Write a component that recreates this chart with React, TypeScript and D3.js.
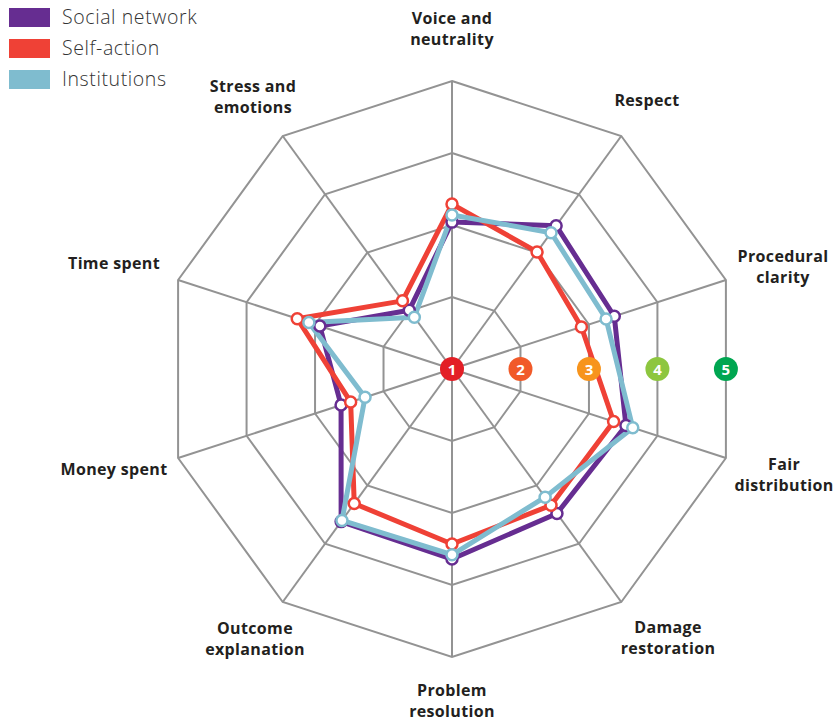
import React, { useEffect, useRef } from "react";
import * as d3 from "d3";

const axes = [
  ["Voice and", "neutrality"],
  ["Respect"],
  ["Procedural", "clarity"],
  ["Fair", "distribution"],
  ["Damage", "restoration"],
  ["Problem", "resolution"],
  ["Outcome", "explanation"],
  ["Money spent"],
  ["Time spent"],
  ["Stress and", "emotions"],
];

const seriesNames = ["Social network", "Self-action", "Institutions"];
const seriesColors = ["#662d91", "#ef4136", "#7fbccf"];

const socialNetwork = [3.04, 3.46, 3.37, 3.54, 3.48, 3.64, 3.62, 2.62, 2.93, 2.01];
const selfAction = [3.29, 3.01, 2.89, 3.36, 3.34, 3.43, 3.31, 2.48, 3.26, 2.17];
const institutions = [3.14, 3.34, 3.25, 3.64, 3.2, 3.58, 3.6, 2.27, 3.09, 1.89];

const levels = [1, 2, 3, 4, 5];
const levelColors = ["#e31f26", "#f15a29", "#f7941d", "#8dc63f", "#00a651"];

// label anchor positions [x, y of first line]
const labelPos = [
  [452, 24], [647, 106], [783, 262], [784, 470], [668, 633],
  [452, 696], [255, 634], [114, 475], [114, 269], [253, 92],
];

const font = "'Open Sans', Lato, sans-serif";

const App = () => {
  const svgRef = useRef(null);

  useEffect(() => {
    const width = 836;
    const height = 723;
    const cx = 452;
    const cy = 369;
    const R = 288;

    const svg = d3.select(svgRef.current);
    svg.selectAll("*").remove();
    svg.attr("width", width).attr("height", height);

    const r = d3.scaleLinear().domain([1, 5]).range([0, R]);
    const angle = (i) => (i * 2 * Math.PI) / axes.length;

    const g = svg.append("g").attr("transform", `translate(${cx},${cy})`);

    // grid polygons
    const radial = d3
      .lineRadial()
      .angle((d, i) => angle(i))
      .radius((d) => r(d))
      .curve(d3.curveLinearClosed);

    levels.slice(1).forEach((lv) => {
      g.append("path")
        .attr("d", radial(axes.map(() => lv)))
        .attr("fill", "none")
        .attr("stroke", "#939393")
        .attr("stroke-width", 2);
    });

    // spokes
    axes.forEach((a, i) => {
      g.append("line")
        .attr("x1", 0)
        .attr("y1", 0)
        .attr("x2", r(5) * Math.sin(angle(i)))
        .attr("y2", -r(5) * Math.cos(angle(i)))
        .attr("stroke", "#939393")
        .attr("stroke-width", 2);
    });

    // series
    const allSeries = [socialNetwork, selfAction, institutions];
    allSeries.forEach((vals, s) => {
      g.append("path")
        .attr("d", radial(vals))
        .attr("fill", "none")
        .attr("stroke", seriesColors[s])
        .attr("stroke-width", 5)
        .attr("stroke-linejoin", "round");
    });
    allSeries.forEach((vals, s) => {
      g.selectAll(null)
        .data(vals)
        .enter()
        .append("circle")
        .attr("cx", (d, i) => r(d) * Math.sin(angle(i)))
        .attr("cy", (d, i) => -r(d) * Math.cos(angle(i)))
        .attr("r", 5.5)
        .attr("fill", "#fff")
        .attr("stroke", seriesColors[s])
        .attr("stroke-width", 2.5);
    });

    // level badges along the horizontal
    const cos18 = Math.cos(Math.PI / 10);
    levels.forEach((lv, i) => {
      const x = r(lv) * cos18;
      g.append("circle")
        .attr("cx", x)
        .attr("cy", 0)
        .attr("r", 12)
        .attr("fill", levelColors[i]);
      g.append("text")
        .attr("x", x)
        .attr("y", 5.5)
        .attr("text-anchor", "middle")
        .attr("fill", "#fff")
        .style("font-family", font)
        .style("font-weight", 700)
        .style("font-size", "15px")
        .text(lv);
    });

    // axis labels
    axes.forEach((lines, i) => {
      const t = svg
        .append("text")
        .attr("text-anchor", "middle")
        .attr("fill", "#231f20")
        .style("font-family", font)
        .style("font-weight", 700)
        .style("font-size", "16px")
        .style("letter-spacing", "0.35px");
      lines.forEach((ln, j) => {
        t.append("tspan")
          .attr("x", labelPos[i][0])
          .attr("y", labelPos[i][1] + j * 21)
          .text(ln);
      });
    });

    // legend
    const legend = svg.append("g").attr("transform", "translate(9, 8)");
    seriesNames.forEach((name, i) => {
      const row = legend.append("g").attr("transform", `translate(0, ${i * 31})`);
      row.append("rect").attr("width", 41).attr("height", 19).attr("fill", seriesColors[i]);
      row
        .append("text")
        .attr("x", 53)
        .attr("y", 16)
        .attr("fill", "#333")
        .style("font-family", font)
        .style("font-weight", 300)
        .style("font-size", "19.5px")
        .style("letter-spacing", "0.6px")
        .text(name);
    });
  }, []);

  return (
    <div style={{ position: "absolute", left: 0, top: 0 }}>
      <svg ref={svgRef}></svg>
    </div>
  );
};

export default App;
